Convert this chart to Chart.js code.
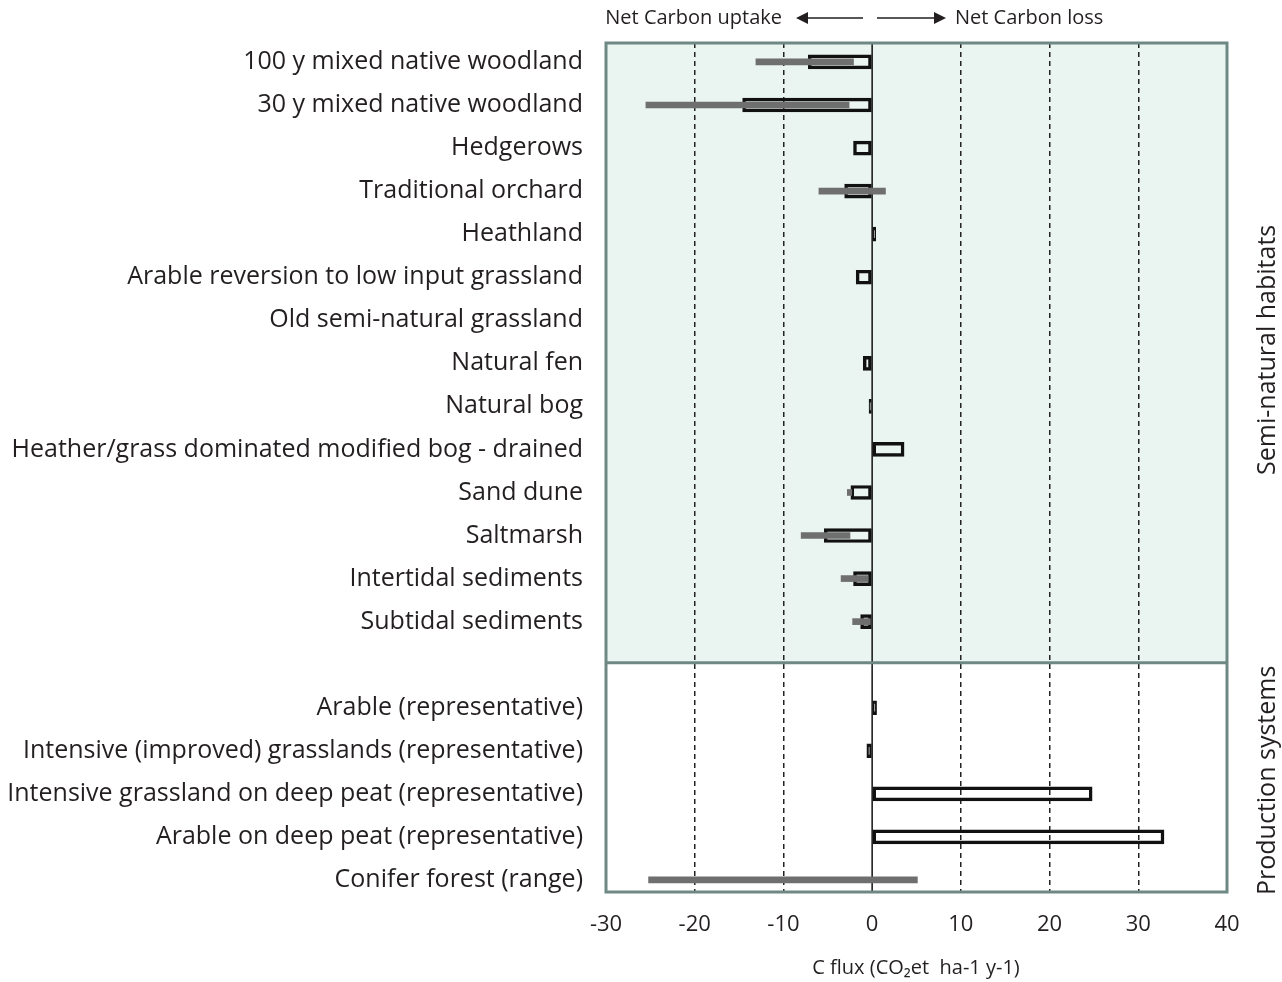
<!DOCTYPE html>
<html>
<head>
<meta charset="utf-8">
<script src="https://cdn.jsdelivr.net/npm/chart.js@4"></script>
<style>
  body { margin: 0; background: #fff; }
  #wrap { width: 1282px; height: 982px; position: relative; }
</style>
</head>
<body>
<div id="wrap"><canvas id="fluxChart"></canvas></div>
<script>
// categories (blank entry = gap between the two panels)
const categories = [
  '100 y mixed native woodland',
  '30 y mixed native woodland',
  'Hedgerows',
  'Traditional orchard',
  'Heathland',
  'Arable reversion to low input grassland',
  'Old semi-natural grassland',
  'Natural fen',
  'Natural bog',
  'Heather/grass dominated modified bog - drained',
  'Sand dune',
  'Saltmarsh',
  'Intertidal sediments',
  'Subtidal sediments',
  '',
  'Arable (representative)',
  'Intensive (improved) grasslands (representative)',
  'Intensive grassland on deep peat (representative)',
  'Arable on deep peat (representative)',
  'Conifer forest (range)'
];

// mean C flux (outlined bars)
const flux = [-7.2, -14.6, -2.1, -3.1, 0.4, -1.8, null, -1.0, -0.35, 3.6,
  -2.4, -5.4, -2.1, -1.3, null, 0.5, -0.6, 24.8, 32.9, null];

// range (grey bars)
const rangeLow = [-13.1, -25.5, null, -6.0, null, null, null, null, null, null,
  -2.8, -8.0, -3.5, -2.2, null, null, null, null, null, -25.2];
const rangeHigh = [-2.1, -2.6, null, 1.5, null, null, null, null, null, null,
  -2.3, -2.5, -0.5, -0.2, null, null, null, null, null, 5.1];

const xTicks = [-30, -20, -10, 0, 10, 20, 30, 40];
const gapIndex = 14;

const fluxData = [];
flux.forEach((v, i) => { if (v !== null) fluxData.push({ x: v, y: i }); });
const rangeData = [];
rangeLow.forEach((v, i) => { if (v !== null) rangeData.push({ x: [v, rangeHigh[i]], y: i }); });

const frameColor = '#6e8884';
const textColor = '#231f20';
const font = '"Open Sans", "Noto Sans", sans-serif';

// panels, frame, zero line, arrows and side labels
const decor = {
  id: 'decor',
  beforeDatasetsDraw(chart) {
    const { ctx, chartArea: a, scales: { x, y } } = chart;
    const sep = y.getPixelForValue(gapIndex) - 2;
    ctx.save();
    // upper panel background
    ctx.globalCompositeOperation = 'destination-over';
    ctx.fillStyle = '#eaf4f1';
    ctx.fillRect(a.left, a.top, a.right - a.left, sep - a.top);
    ctx.globalCompositeOperation = 'source-over';
    // zero line
    const x0 = x.getPixelForValue(0);
    ctx.strokeStyle = '#111';
    ctx.lineWidth = 1.5;
    ctx.beginPath();
    ctx.moveTo(x0, a.top);
    ctx.lineTo(x0, a.bottom);
    ctx.stroke();
    ctx.restore();
  },
  afterDraw(chart) {
    const { ctx, chartArea: a, scales: { x, y } } = chart;
    const sep = y.getPixelForValue(gapIndex) - 2;
    ctx.save();
    ctx.strokeStyle = frameColor;
    ctx.lineWidth = 3;
    ctx.strokeRect(a.left, a.top, a.right - a.left, a.bottom - a.top);
    ctx.beginPath();
    ctx.moveTo(a.left, sep);
    ctx.lineTo(a.right, sep);
    ctx.stroke();

    // top arrows
    const ay = 18;
    ctx.fillStyle = textColor;
    ctx.strokeStyle = textColor;
    ctx.lineWidth = 1.5;
    ctx.beginPath();
    ctx.moveTo(806, ay); ctx.lineTo(863, ay);
    ctx.moveTo(877, ay); ctx.lineTo(936, ay);
    ctx.stroke();
    ctx.beginPath();
    ctx.moveTo(796, ay); ctx.lineTo(808, ay - 6); ctx.lineTo(808, ay + 6); ctx.closePath();
    ctx.moveTo(946, ay); ctx.lineTo(934, ay - 6); ctx.lineTo(934, ay + 6); ctx.closePath();
    ctx.fill();
    ctx.font = '20px ' + font;
    ctx.textBaseline = 'middle';
    ctx.textAlign = 'right';
    ctx.fillText('Net Carbon uptake', 782, ay);
    ctx.textAlign = 'left';
    ctx.fillText('Net Carbon loss', 955, ay);

    // axis title
    ctx.textAlign = 'center';
    ctx.font = '20px ' + font;
    ctx.fillText('C flux (CO\u2082et  ha-1 y-1)', 916, 968);

    // side labels
    ctx.font = '25px ' + font;
    ctx.translate(1268, (a.top + sep) / 2 - 3);
    ctx.rotate(-Math.PI / 2);
    ctx.fillText('Semi-natural habitats', 0, 0);
    ctx.rotate(Math.PI / 2);
    ctx.translate(0, (sep + a.bottom) / 2 - (a.top + sep) / 2 + 6);
    ctx.rotate(-Math.PI / 2);
    ctx.fillText('Production systems', 0, 0);
    ctx.restore();
  }
};

const ctx = document.getElementById('fluxChart').getContext('2d');
new Chart(ctx, {
  type: 'bar',
  data: {
    datasets: [
      {
        label: 'Range',
        data: rangeData,
        backgroundColor: '#6f6f6f',
        borderWidth: 0,
        barThickness: 6,
        grouped: false
      },
      {
        label: 'C flux',
        data: fluxData,
        backgroundColor: 'rgba(0,0,0,0)',
        borderColor: '#111',
        borderWidth: 2.8,
        borderSkipped: false,
        barThickness: 14,
        grouped: false
      }
    ]
  },
  options: {
    indexAxis: 'y',
    responsive: true,
    maintainAspectRatio: false,
    animation: false,
    layout: { padding: { top: 43, right: 55, bottom: 0, left: 0 } },
    plugins: {
      legend: { display: false },
      tooltip: { enabled: false }
    },
    scales: {
      x: {
        type: 'linear',
        min: -30,
        max: 40,
        afterBuildTicks: s => { s.ticks = xTicks.map(v => ({ value: v })); },
        afterFit: s => { s.height = 90; },
        ticks: {
          padding: 20,
          color: textColor,
          font: { family: font, size: 22 }
        },
        grid: {
          drawTicks: false,
          lineWidth: 1.5,
          color: c => (c.tick && (c.tick.value === 0 || c.tick.value === -30 || c.tick.value === 40)) ? 'rgba(0,0,0,0)' : '#222'
        },
        border: { display: false, dash: [5, 4] }
      },
      y: {
        type: 'linear',
        bounds: 'data',
        offset: false,
        reverse: true,
        min: -0.44,
        max: 19.28,
        afterBuildTicks: s => { s.ticks = categories.map((c, i) => ({ value: i })); },
        afterFit: s => { s.width = 606; },
        ticks: {
          padding: 15,
          color: textColor,
          font: { family: font, size: 25 },
          callback: v => categories[v]
        },
        grid: { display: false, offset: false },
        border: { display: false }
      }
    }
  },
  plugins: [decor]
});
</script>
</body>
</html>
